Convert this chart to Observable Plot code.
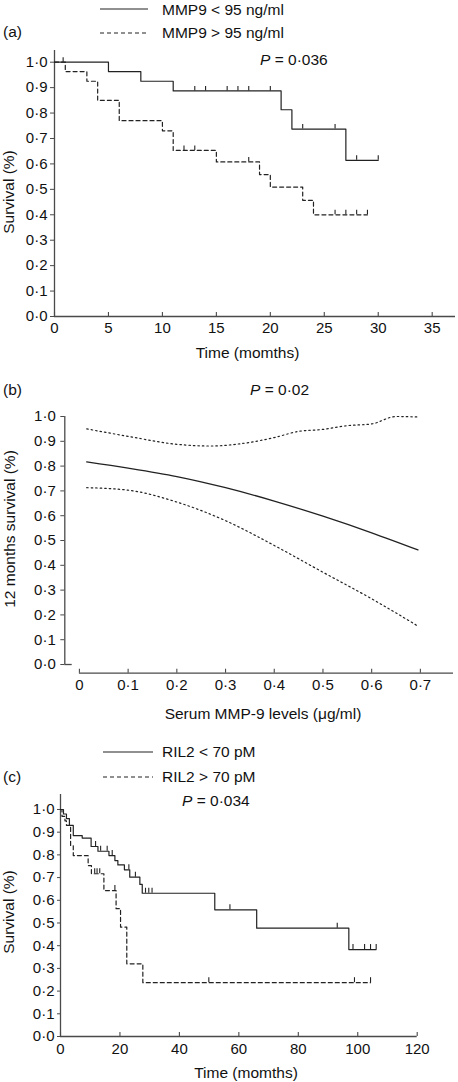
<!DOCTYPE html>
<html><head><meta charset="utf-8">
<script src="https://cdn.jsdelivr.net/npm/d3@7"></script>
<script src="https://cdn.jsdelivr.net/npm/@observablehq/plot@0.6"></script>
<style>
body{margin:0;background:#fff;}
#root{position:relative;width:458px;height:1082px;font-family:"Liberation Sans",Arial,Helvetica,sans-serif;color:#111;overflow:hidden;background:#fff}
.t{position:absolute;white-space:nowrap;font-size:15.5px;line-height:1;transform:translateY(-50%)}
.c{transform:translate(-50%,-50%)}
.r{transform:translate(-50%,-50%) rotate(-90deg)}
svg.plot{position:absolute;left:0}
</style></head><body><div id="root"></div>
<script>
// ---------- Panel (a): Kaplan-Meier by MMP9 ----------
const aLowTime  = [0, 5, 8, 11, 21, 22, 27, 30];
const aLowSurv  = [1.0, 0.963, 0.925, 0.887, 0.813, 0.737, 0.614, 0.614];
const aLowCensT = [0.8, 13, 14, 16, 17, 18, 20, 23, 26, 28, 30];
const aLowCensS = [1.0, 0.887, 0.887, 0.887, 0.887, 0.887, 0.887, 0.737, 0.737, 0.614, 0.614];
const aHighTime = [0, 1, 3, 4, 6, 10, 11, 15, 19, 20, 23, 24, 29];
const aHighSurv = [1.0, 0.963, 0.925, 0.85, 0.77, 0.73, 0.653, 0.608, 0.558, 0.509, 0.457, 0.40, 0.40];
const aHighCensT = [12, 13, 18, 26, 27, 28, 29];
const aHighCensS = [0.653, 0.653, 0.608, 0.40, 0.40, 0.40, 0.40];
const aXTicks = [0, 5, 10, 15, 20, 25, 30, 35];
const aXTickLabels = ["0", "5", "10", "15", "20", "25", "30", "35"];
const aYTicks = [0, 0.1, 0.2, 0.3, 0.4, 0.5, 0.6, 0.7, 0.8, 0.9, 1.0];
const aYTickLabels = ["0·0","0·1","0·2","0·3","0·4","0·5","0·6","0·7","0·8","0·9","1·0"];
const aLegend = ["MMP9 < 95 ng/ml", "MMP9 > 95 ng/ml"];

// ---------- Panel (b): 12-month survival vs serum MMP-9 ----------
const bMidX   = [0.015, 0.1, 0.2, 0.3, 0.4, 0.5, 0.6, 0.695];
const bMidY   = [0.817, 0.792, 0.758, 0.713, 0.659, 0.598, 0.531, 0.462];
const bUpX    = [0.015, 0.1, 0.2, 0.27, 0.33, 0.4, 0.45, 0.5, 0.55, 0.6, 0.65, 0.695];
const bUpY    = [0.95, 0.92, 0.888, 0.881, 0.89, 0.915, 0.94, 0.948, 0.963, 0.97, 1.0, 0.998];
const bLowX   = [0.015, 0.1, 0.2, 0.3, 0.4, 0.5, 0.6, 0.695];
const bLowY   = [0.713, 0.703, 0.655, 0.58, 0.48, 0.372, 0.265, 0.155];
const bXTicks = [0, 0.1, 0.2, 0.3, 0.4, 0.5, 0.6, 0.7];
const bXTickLabels = ["0","0·1","0·2","0·3","0·4","0·5","0·6","0·7"];
const bYTicks = aYTicks;
const bYTickLabels = aYTickLabels;

// ---------- Panel (c): Kaplan-Meier by RIL2 ----------
const cLowTime = [0, 1, 2, 3, 4.3, 7.3, 10.3, 12.6, 16.3, 18.3, 19.3, 21.5, 23.3, 26.7, 27.5, 51.9, 66, 97, 106.2];
const cLowSurv = [1.0, 0.98, 0.96, 0.93, 0.885, 0.874, 0.837, 0.816, 0.797, 0.775, 0.756, 0.734, 0.702, 0.67, 0.631, 0.558, 0.477, 0.383, 0.383];
const cLowCensT = [11.8, 13.5, 15.7, 17.4, 23, 25.2, 28.6, 29.7, 30.8, 57, 93.1, 98.4, 102.3, 104.3, 106.2];
const cLowCensS = [0.837, 0.816, 0.816, 0.797, 0.734, 0.702, 0.631, 0.631, 0.631, 0.558, 0.477, 0.383, 0.383, 0.383, 0.383];
const cHighTime = [0, 0.5, 1.5, 2, 3.4, 4.3, 9.3, 10.4, 14.6, 18.7, 20.2, 22.3, 27.7, 104.3];
const cHighSurv = [1.0, 0.97, 0.95, 0.93, 0.84, 0.797, 0.753, 0.717, 0.643, 0.563, 0.482, 0.32, 0.237, 0.237];
const cHighCensT = [11.5, 12.3, 13.2, 18.3, 49.9, 98.9, 104.3];
const cHighCensS = [0.717, 0.717, 0.717, 0.643, 0.237, 0.237, 0.237];
const cXTicks = [0, 20, 40, 60, 80, 100, 120];
const cXTickLabels = ["0","20","40","60","80","100","120"];
const cYTicks = aYTicks;
const cYTickLabels = aYTickLabels;
const cLegend = ["RIL2 < 70 pM", "RIL2 > 70 pM"];

// ---------- helpers ----------
const root = document.getElementById("root");
const FONT = '"Liberation Sans",Arial,Helvetica,sans-serif';
const INK = "#222", AXIS = "#4a4a4a";
const pts = (xs, ys) => xs.map((x, i) => ({x, y: ys[i]}));
const lab = (ticks, labels) => d => labels[ticks.findIndex(t => Math.abs(t - d) < 1e-9)];

function place(svg, top) { svg.classList.add("plot"); svg.style.top = top + "px"; root.appendChild(svg); }

function kmPlot({top, width, height, mL, mR, mT, mB, xDomain, yDomain, xTicks, xLabels, yTicks, yLabels,
                 xPad, yTickSize, yPad, curves, censorLenPx}) {
  const plotH = height - mT - mB;
  const pxPerY = plotH / (yDomain[1] - yDomain[0]);
  const marks = [
    Plot.ruleY([yDomain[0]], {stroke: AXIS, strokeWidth: 1.3}),
    Plot.ruleX([xDomain[0]], {stroke: AXIS, strokeWidth: 1.3}),
    Plot.tickX(xTicks, {x: d => d, insetTop: plotH - 4, stroke: AXIS, strokeWidth: 1.1}),
    Plot.axisX({ticks: xTicks, tickSize: 0, tickPadding: xPad, tickFormat: lab(xTicks, xLabels), label: null, fontSize: 15}),
    Plot.axisY({ticks: yTicks, tickSize: yTickSize, tickPadding: yPad, tickFormat: lab(yTicks, yLabels), label: null, fontSize: 15, stroke: AXIS})
  ];
  for (const c of curves) {
    marks.push(Plot.line(pts(c.t, c.s), {x: "x", y: "y", curve: "step-after", stroke: INK, strokeWidth: 1.2, strokeDasharray: c.dash}));
    marks.push(Plot.ruleX(pts(c.ct, c.cs), {x: "x", y1: "y", y2: d => d.y + censorLenPx / pxPerY, stroke: INK, strokeWidth: 1.1}));
  }
  const svg = Plot.plot({
    width, height, marginLeft: mL, marginRight: mR, marginTop: mT, marginBottom: mB,
    x: {domain: xDomain}, y: {domain: yDomain},
    style: {fontFamily: FONT, fontSize: "15px", color: "#111", background: "none", overflow: "visible"},
    marks
  });
  place(svg, top);
}

function text(html, x, y, cls = "") {
  const d = document.createElement("div");
  d.className = "t " + cls;
  d.style.left = x + "px"; d.style.top = y + "px";
  d.innerHTML = html;
  root.appendChild(d);
}
function sample(x, y, w, dash) {
  const ns = "http://www.w3.org/2000/svg";
  const s = document.createElementNS(ns, "svg");
  s.setAttribute("width", w); s.setAttribute("height", 4);
  s.style.position = "absolute"; s.style.left = x + "px"; s.style.top = (y - 2) + "px";
  const l = document.createElementNS(ns, "line");
  l.setAttribute("x1", 0); l.setAttribute("x2", w); l.setAttribute("y1", 2); l.setAttribute("y2", 2);
  l.setAttribute("stroke", INK); l.setAttribute("stroke-width", 1.2);
  if (dash) l.setAttribute("stroke-dasharray", dash);
  s.appendChild(l); root.appendChild(s);
}

// ---------- Panel (a) ----------
kmPlot({top: 40, width: 458, height: 330, mL: 54, mR: 3, mT: 10, mB: 54,
  xDomain: [0, 37.16], yDomain: [0, 1.046], xTicks: aXTicks, xLabels: aXTickLabels,
  yTicks: aYTicks, yLabels: aYTickLabels, xPad: 6, yTickSize: 4, yPad: 3, censorLenPx: 4.5,
  curves: [
    {t: aLowTime, s: aLowSurv, ct: aLowCensT, cs: aLowCensS, dash: null},
    {t: aHighTime, s: aHighSurv, ct: aHighCensT, cs: aHighCensS, dash: "4,3"}
  ]});

// ---------- Panel (b) ----------
{
  const top = 400, width = 458, height = 330, mL = 64.3, mR = 5, mT = 16, mB = 57.3;
  const xDomain = [-0.030, 0.768], yDomain = [-0.035, 1.0];
  const plotH = height - mT - mB, plotW = width - mL - mR;
  const pxPerX = plotW / (xDomain[1] - xDomain[0]);
  const svg = Plot.plot({
    width, height, marginLeft: mL, marginRight: mR, marginTop: mT, marginBottom: mB,
    x: {domain: xDomain}, y: {domain: yDomain},
    style: {fontFamily: FONT, fontSize: "15px", color: "#111", background: "none", overflow: "visible"},
    marks: [
      Plot.ruleX([xDomain[0]], {y1: 0, y2: 1, stroke: AXIS, strokeWidth: 1.3}),
      Plot.ruleY([0], {x1: xDomain[0], x2: xDomain[0] + 7.4 / pxPerX, stroke: AXIS, strokeWidth: 1.3}),
      Plot.ruleY([yDomain[0]], {x1: 0, x2: xDomain[1], stroke: AXIS, strokeWidth: 1.3}),
      Plot.tickX(bXTicks, {x: d => d, insetTop: plotH - 4, stroke: AXIS, strokeWidth: 1.1}),
      Plot.axisX({ticks: bXTicks, tickSize: 0, tickPadding: 6, tickFormat: lab(bXTicks, bXTickLabels), label: null, fontSize: 15}),
      Plot.axisY({ticks: bYTicks, tickSize: 4, tickPadding: 5, tickFormat: lab(bYTicks, bYTickLabels), label: null, fontSize: 15, stroke: AXIS}),
      Plot.line(pts(bUpX, bUpY), {x: "x", y: "y", curve: "monotone-x", stroke: INK, strokeWidth: 1.2, strokeDasharray: "1.5,3"}),
      Plot.line(pts(bLowX, bLowY), {x: "x", y: "y", curve: "monotone-x", stroke: INK, strokeWidth: 1.2, strokeDasharray: "1.5,3"}),
      Plot.line(pts(bMidX, bMidY), {x: "x", y: "y", curve: "monotone-x", stroke: INK, strokeWidth: 1.3})
    ]
  });
  place(svg, top);
}

// ---------- Panel (c) ----------
kmPlot({top: 780, width: 458, height: 302, mL: 60, mR: 41.3, mT: 14, mB: 46,
  xDomain: [0, 120], yDomain: [0, 1.066], xTicks: cXTicks, xLabels: cXTickLabels,
  yTicks: cYTicks, yLabels: cYTickLabels, xPad: 7, yTickSize: 3, yPad: 3, censorLenPx: 5,
  curves: [
    {t: cLowTime, s: cLowSurv, ct: cLowCensT, cs: cLowCensS, dash: null},
    {t: cHighTime, s: cHighSurv, ct: cHighCensT, cs: cHighCensS, dash: "4,3"}
  ]});

// ---------- Texts and legends ----------
sample(100, 9.3, 48, null);   text(aLegend[0], 162, 9.5);
sample(100, 32.7, 48, "4,3"); text(aLegend[1], 162, 33);
text("(a)", 3, 31.5);
text("<i>P</i> = 0·036", 260, 60);
text("Survival (%)", 9, 192, "r");
text("Time (momths)", 247.5, 353, "c");

text("(b)", 3, 390);
text("<i>P</i> = 0·02", 250, 390);
text("12 months survival (%)", 10, 529, "r");
text("Serum MMP-9 levels (μg/ml)", 263, 714, "c");

sample(103, 751.7, 50, null);   text(cLegend[0], 162, 751.5);
sample(103, 777, 50, "4,3");    text(cLegend[1], 162, 777);
text("(c)", 3, 777);
text("<i>P</i> = 0·034", 182, 801);
text("Survival (%)", 9, 912, "r");
text("Time (momths)", 246, 1073, "c");
</script></body></html>
